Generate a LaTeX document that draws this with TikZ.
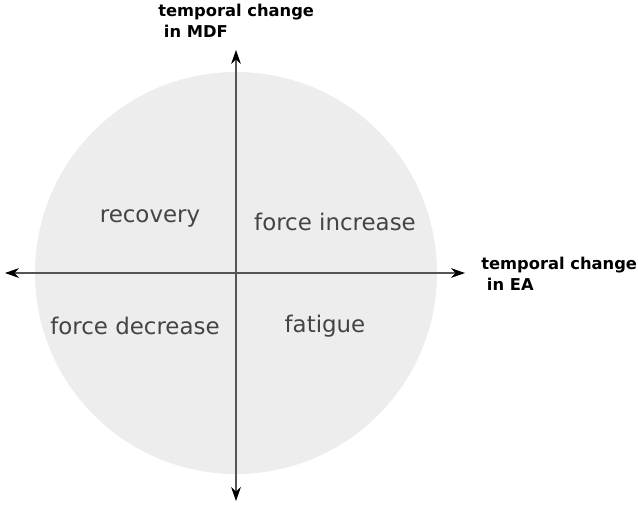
\documentclass[tikz,border=0pt]{standalone}
\usepackage{fontspec}
\setmainfont{DejaVu Sans}
\usepackage{xcolor}
\usetikzlibrary{arrows.meta}
\definecolor{discgray}{HTML}{EDEDED}
\definecolor{labelgray}{HTML}{444444}
\definecolor{axisgray}{HTML}{555555}

\begin{document}
\begin{tikzpicture}[
    x=0.025cm, y=-0.025cm,
    quadrant/.style={
        text=labelgray,
        font=\fontsize{16.3}{19}\selectfont,
        inner sep=0pt
    },
    axislabel/.style={
        anchor=north west,
        align=left,
        font=\fontsize{11.6}{15}\selectfont\bfseries,
        inner sep=0pt
    },
    axis/.style={
        draw=axisgray,
        line width=0.9pt,
        -{Stealth[length=10pt,width=7pt,black]}
    }
]
\useasboundingbox (0,0) rectangle (638,509);
\node[circle, fill=discgray, minimum size=402*0.025cm, inner sep=0pt] (disc) at (236,273) {};

\coordinate (west) at (5,273);
\coordinate (east) at (465,273);
\coordinate (south) at (236,501);
\coordinate (north) at (236,50);
\draw[axis] (236,273) -- (west);
\draw[axis] (236,273) -- (east);
\draw[axis] (236,273) -- (south);
\draw[axis] (236,273) -- (north);

\node[quadrant] (recovery) at (150,218) {recovery};
\node[quadrant] (increase) at (335,222) {force increase};
\node[quadrant] (decrease) at (135,326) {force decrease};
\node[quadrant] (fatigue) at (325,326) {fatigue};

\node[axislabel] (mdf) at (158,4) {temporal change\\\hspace{0.35em}in MDF};
\node[axislabel] (ea) at (481,257) {temporal change\\\hspace{0.35em}in EA};
\end{tikzpicture}
\end{document}
